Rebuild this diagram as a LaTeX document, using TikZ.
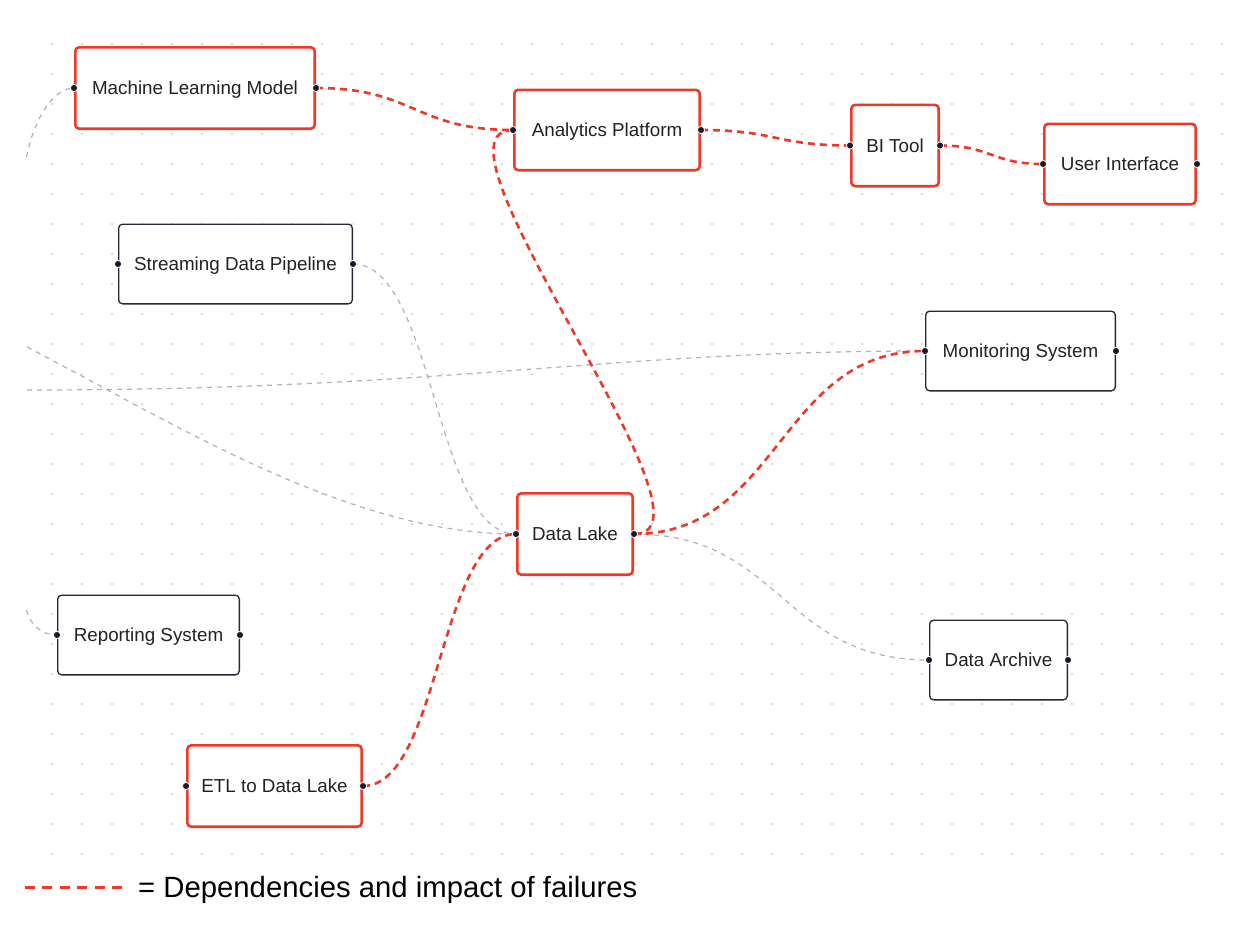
\documentclass[tikz,border=0pt]{standalone}
\usepackage{fontspec}
\setmainfont{Liberation Sans}
\usepackage{xcolor}
\usetikzlibrary{positioning}
\definecolor{critred}{RGB}{238,56,40}
\definecolor{nodeline}{RGB}{40,40,52}
\definecolor{handlefill}{RGB}{26,25,43}
\definecolor{edgegray}{RGB}{177,177,183}
\definecolor{dotgray}{RGB}{182,182,182}
\definecolor{labeltext}{RGB}{34,34,34}
\tikzset{
    flownode/.style={draw=nodeline, line width=1.3pt, rounded corners=4pt, fill=white, align=center, inner sep=0pt, font=\fontsize{18.8}{20}\selectfont, text=labeltext, text height=13.5pt, text depth=0pt, minimum height=79.7pt},
    flowcrit/.style={flownode, draw=critred, line width=2.6pt, minimum height=81.4pt},
    flowlink/.style={draw=edgegray, line width=1.2pt, dash pattern=on 5pt off 5pt},
    flowimpact/.style={draw=critred, line width=2.6pt, dash pattern=on 7pt off 5pt},
    flowhandle/.style={fill=handlefill, draw=white, line width=0.8pt}
}

\begin{document}
\begin{tikzpicture}[x=1pt, y=-1pt]
    \useasboundingbox (0,0) rectangle (1250,926);
    \fill[white] (0,0) rectangle (1250,926);
    % dot grid
    \foreach \gx in {0,...,39}
        \foreach \gy in {0,...,27}
            \fill[dotgray] (52+30*\gx, 44+30*\gy) circle (0.8pt);

    \node[flowcrit, minimum width=239.4pt] (ml) at (195,88) {Machine Learning Model};
    \node[flowcrit, minimum width=185.4pt, minimum height=80.4pt] (ap) at (607,130) {Analytics Platform};
    \node[flowcrit, minimum width=87.4pt] (bi) at (895,145.5) {BI Tool};
    \node[flowcrit, minimum width=151.4pt, minimum height=80.4pt] (ui) at (1120,164) {User Interface};
    \node[flownode, minimum width=233.7pt] (sdp) at (235.5,264) {Streaming Data Pipeline};
    \node[flownode, minimum width=189.7pt] (mon) at (1020.5,351) {Monitoring System};
    \node[flowcrit, minimum width=115.4pt] (dl) at (575,534) {Data Lake};
    \node[flownode, minimum width=181.7pt] (rep) at (148.5,635) {Reporting System};
    \node[flownode, minimum width=137.7pt] (arc) at (998.5,660) {Data Archive};
    \node[flowcrit, minimum width=174.4pt] (etl) at (274.5,786) {ETL to Data Lake};

    % links that come in from outside the view
    \coordinate (offml) at (26.5,157);
    \coordinate (offlake) at (27,347);
    \coordinate (offmon) at (27,390);
    \coordinate (offrep) at (26.5,610);

    \draw[flowlink] (offml) .. controls +(8.5,-42) and +(-19,0) .. (ml.west);
    \draw[flowlink] (sdp.east) .. controls +(81.5,0) and +(-81.5,0) .. (dl.west);
    \draw[flowlink] (offmon) .. controls +(423,0) and +(-325,0) .. (mon.west);
    \draw[flowlink] (offlake) .. controls +(150,78) and +(-166,0) .. (dl.west);
    \draw[flowlink] (dl.east) .. controls +(147.5,0) and +(-147.5,0) .. (arc.west);
    \draw[flowlink] (offrep) .. controls +(3.5,15) and +(-15,0) .. (rep.west);

    % failure impact chain
    \draw[flowimpact] (ml.east) .. controls +(98.5,0) and +(-98.5,0) .. (ap.west);
    \draw[flowimpact] (ap.east) .. controls +(74.5,0) and +(-74.5,0) .. (bi.west);
    \draw[flowimpact] (bi.east) .. controls +(51.5,0) and +(-51.5,0) .. (ui.west);
    \draw[flowimpact] (ap.west) .. controls +(-100,0) and +(100,0) .. (dl.east);
    \draw[flowimpact] (dl.east) .. controls +(145.5,0) and +(-145.5,0) .. (mon.west);
    \draw[flowimpact] (etl.east) .. controls +(76.5,0) and +(-76.5,0) .. (dl.west);

    % handles
    \foreach \n in {ml,ap,bi,ui,sdp,mon,dl,rep,arc,etl} {
        \filldraw[flowhandle] (\n.west) circle (3.6pt);
        \filldraw[flowhandle] (\n.east) circle (3.6pt);
    }

    % legend
    \coordinate (legstart) at (25,887);
    \coordinate (legstop) at (122,887);
    \node[anchor=west, inner sep=0pt, font=\fontsize{29.3}{32}\selectfont, text height=21pt, text depth=0pt] (legtext) at (138,887) {= Dependencies and impact of failures};
    \draw[flowimpact, line width=3pt, dash pattern=on 10pt off 7.4pt] (legstart) -- (legstop);
\end{tikzpicture}
\end{document}
